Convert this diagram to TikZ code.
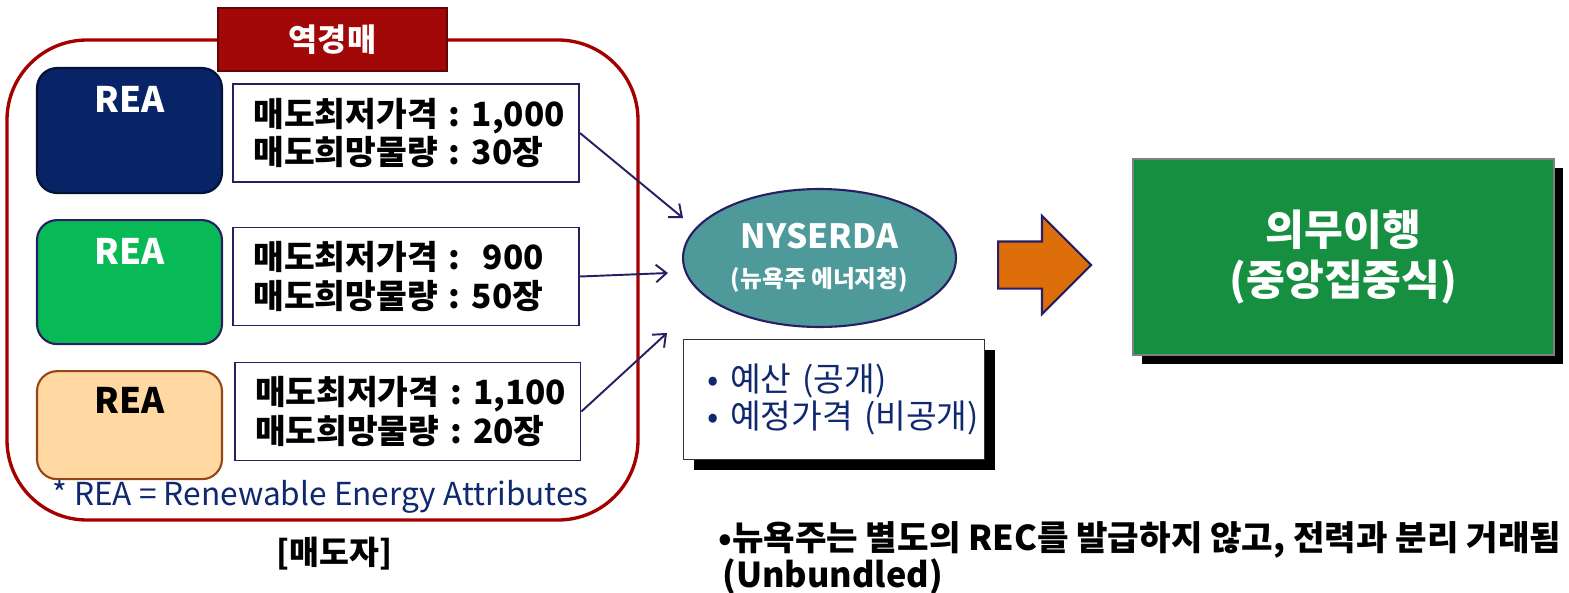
\documentclass[tikz,border=0pt]{standalone}
\usepackage{fontspec}
\setmainfont{Noto Sans CJK KR}
\usetikzlibrary{positioning, shapes.geometric, shapes.arrows, shadows, arrows.meta}

\definecolor{framered}{RGB}{164,0,0}
\definecolor{tabred}{RGB}{162,8,8}
\definecolor{reablue}{RGB}{8,36,102}
\definecolor{reagreen}{RGB}{8,186,86}
\definecolor{reapeach}{RGB}{255,216,162}
\definecolor{peachedge}{RGB}{150,70,20}
\definecolor{linenavy}{RGB}{40,30,100}
\definecolor{textnavy}{RGB}{16,40,110}
\definecolor{nysteal}{RGB}{78,154,154}
\definecolor{arroworange}{RGB}{222,110,10}
\definecolor{dutygreen}{RGB}{22,144,64}

\tikzset{
>={Straight Barb[length=6pt,width=10pt]}, % open heads on the offer lines
frame/.style={draw=framered, line width=1.9pt, rounded corners=1.6cm}, % the reverse auction border
tab/.style={fill=tabred, draw=tabred!60!black, line width=1pt, minimum width=4.58cm, minimum height=1.26cm, text=white, font=\fontsize{18pt}{21pt}\selectfont\bfseries},
rea/.style={rounded corners=0.4cm, minimum width=3.7cm, inner sep=0pt, line width=1.2pt}, % seller boxes
reatext/.style={anchor=center, yshift=-0.64cm, font=\fontsize{20pt}{24pt}\selectfont\bfseries},
offer/.style={draw=linenavy, line width=1.1pt, text width=6.1cm, inner xsep=0.41cm, minimum height=1.96cm, align=left, font=\fontsize{19pt}{22pt}\selectfont\bfseries},
bid/.style={->, draw=linenavy, line width=1.1pt},
agency/.style={ellipse, fill=nysteal, draw=linenavy, line width=1.2pt, minimum width=5.46cm, minimum height=2.76cm, inner sep=0pt, align=center, text=white, font=\fontsize{19pt}{22pt}\selectfont\bfseries},
notes/.style={fill=white, draw=black!80, line width=0.8pt, text width=5.06cm, inner xsep=0.48cm, minimum height=2.4cm, align=left, text=textnavy, font=\fontsize{19pt}{21pt}\selectfont, drop shadow={shadow xshift=0.2cm, shadow yshift=-0.2cm, fill=black, opacity=1}},
push/.style={single arrow, fill=arroworange, draw=linenavy, line width=1.2pt, minimum height=1.86cm, inner xsep=0pt, inner ysep=0.45cm, single arrow head extend=0.51cm},
duty/.style={rectangle, fill=dutygreen, draw=black!50, line width=0.8pt, minimum width=8.42cm, minimum height=3.92cm, align=center, text=white, font=\fontsize{24pt}{29pt}\selectfont\bfseries, drop shadow={shadow xshift=0.18cm, shadow yshift=-0.18cm, fill=black, opacity=1}},
}

\begin{document}
\begin{tikzpicture}[x=0.02cm, y=-0.02cm]
  \useasboundingbox (0,0) rectangle (1569,592);

  % sellers in the reverse auction
  \draw[frame] (7,40) rectangle (638,520);
  \node[tab] (auction) at (332.5,39.5) {역경매};

  \node[rea, fill=reablue, draw=reablue!50!black, minimum height=2.5cm, label={[reatext, text=white]north:REA}] (rea1) at (129.5,130.5) {};
  \node[rea, fill=reagreen, draw=linenavy, minimum height=2.48cm, below=0.5cm of rea1, label={[reatext, text=white]north:REA}] (rea2) {};
  \node[rea, fill=reapeach, draw=peachedge, minimum height=2.16cm, below=0.5cm of rea2, label={[reatext, text=black, yshift=0.04cm]north:REA}] (rea3) {};

  \node[offer] (offer1) at (406,133) {매도최저가격~:~1,000\\매도희망물량~:~30장};
  \node[offer] (offer2) at (406,276.5) {매도최저가격~:~~900\\매도희망물량~:~50장};
  \node[offer] (offer3) at (407.5,411.5) {매도최저가격~:~1,100\\매도희망물량~:~20장};

  \node[anchor=west, inner sep=0pt, text=textnavy, font=\fontsize{18pt}{21pt}\selectfont] (reanote) at (52,497) {* REA = Renewable Energy Attributes};
  \node[font=\fontsize{18.5pt}{21pt}\selectfont\bfseries] (sellers) at (334.5,554) {[매도자]};

  % agency and result
  \node[agency] (nyserda) at (819.5,258) {NYSERDA\\{\fontsize{13.5pt}{15pt}\selectfont (뉴욕주 에너지청)}};
  \node[notes, anchor=north west] (budget) at (683,339) {•~예산~(공개)\\•~예정가격~(비공개)};

  \coordinate (tip1) at (683,218);
  \coordinate (tip2) at (668,273);
  \coordinate (tip3) at (667,333);
  \draw[bid] (offer1.east) -- (tip1);
  \draw[bid] (offer2.east) -- (tip2);
  \draw[bid] (offer3.east) -- (tip3);

  \node[push, anchor=tail] (push) at (997,265) {};
  \node[duty] (duty) at (1343.5,257) {의무이행\\(중앙집중식)};

  \node[anchor=west, inner sep=0pt, align=left, font=\fontsize{19.5pt}{21pt}\selectfont\bfseries] (remark) at (718,558) {•뉴욕주는 별도의 REC를 발급하지 않고, 전력과 분리 거래됨\\\hspace*{0.08cm}(Unbundled)};
\end{tikzpicture}
\end{document}
